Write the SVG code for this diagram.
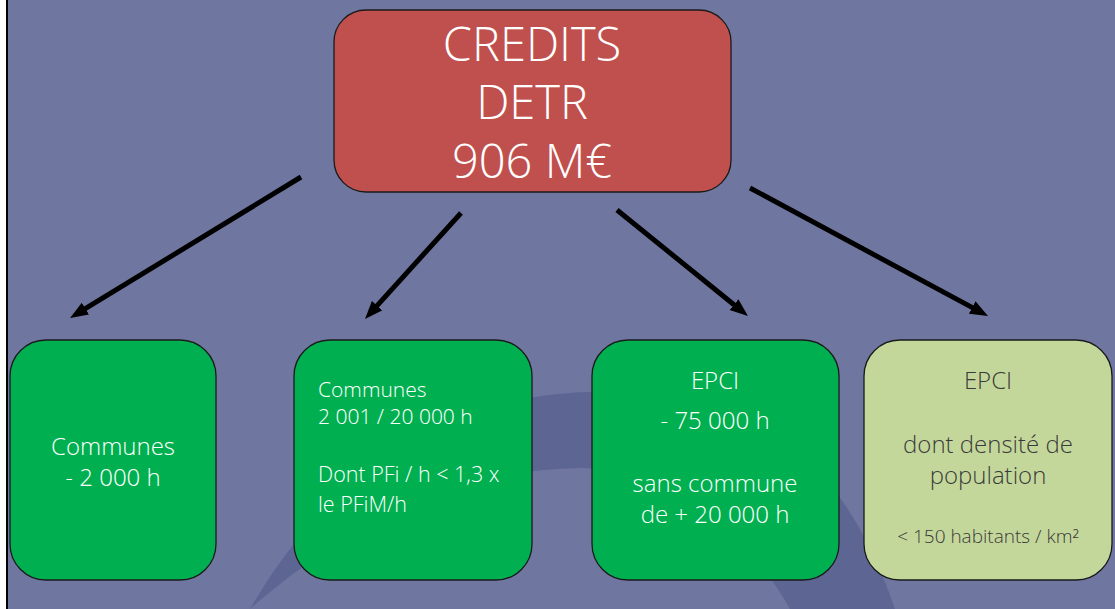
<svg xmlns="http://www.w3.org/2000/svg" width="1115" height="609" viewBox="0 0 1115 609">
  <style>
    .box { stroke: #1a1a1a; stroke-width: 1.3; }
    .red { fill: #c0504d; }
    .green { fill: #00b050; }
    .pale { fill: #c4d79b; }
    text { font-family: "Segoe UI Light", "Open Sans Light", "Open Sans", "Noto Sans", "Liberation Sans", sans-serif; font-weight: 300; }
    .light { fill: #ffffff; }
    .dark { fill: #3a3a3a; }
    .mid { text-anchor: middle; }
    .link { stroke: #000; stroke-width: 5; fill: none; marker-end: url(#head); }
  </style>
  <defs>
    <marker id="head" markerUnits="userSpaceOnUse" markerWidth="20" markerHeight="16" refX="4" refY="7" orient="auto">
      <path d="M0,0 L18,7 L0,14 z" fill="#000"/>
    </marker>
  </defs>

  <!-- backdrop with the faint swoosh behind the lower row -->
  <rect x="0" y="0" width="1115" height="609" fill="#6f77a0"/>
  <path d="M250,609 C330,470 450,395 590,392 C720,390 830,420 895,609 L790,609 C740,520 660,470 580,468 C450,470 340,530 250,609 Z" fill="#5d6593"/>
  <rect x="0" y="0" width="6" height="609" fill="#ffffff"/>
  <line x1="7" y1="0" x2="7" y2="609" stroke="#000" stroke-width="2"/>

  <!-- connectors -->
  <g id="connectors">
    <line class="link" x1="301" y1="177" x2="82" y2="310.7"/>
    <line class="link" x1="461" y1="213" x2="374.4" y2="308.6"/>
    <line class="link" x1="617" y1="210" x2="737.1" y2="307.2"/>
    <line class="link" x1="750" y1="188" x2="975.7" y2="309.4"/>
  </g>

  <!-- root -->
  <g id="credits">
    <rect class="box red" x="334" y="10" width="397" height="182" rx="32"/>
    <text class="light mid" x="532" y="61" font-size="47">CREDITS</text>
    <text class="light mid" x="532" y="119" font-size="47">DETR</text>
    <text class="light mid" x="532" y="178" font-size="47">906 M€</text>
  </g>

  <g id="communes-small">
    <rect class="box green" x="10" y="340" width="206" height="240" rx="36"/>
    <text class="light mid" x="113" y="455" font-size="24">Communes</text>
    <text class="light mid" x="113" y="486" font-size="24">- 2 000 h</text>
  </g>

  <g id="communes-medium">
    <rect class="box green" x="294" y="340" width="238" height="240" rx="36"/>
    <text class="light" x="318" y="397" font-size="21">Communes</text>
    <text class="light" x="318" y="424" font-size="21">2 001 / 20 000 h</text>
    <text class="light" x="318" y="482" font-size="21.5">Dont PFi / h &lt; 1,3 x</text>
    <text class="light" x="318" y="512" font-size="21.5">le PFiM/h</text>
  </g>

  <g id="epci">
    <rect class="box green" x="592" y="340" width="247" height="240" rx="36"/>
    <text class="light mid" x="715" y="389" font-size="24">EPCI</text>
    <text class="light mid" x="715" y="429" font-size="24">- 75 000 h</text>
    <text class="light mid" x="715" y="492" font-size="24">sans commune</text>
    <text class="light mid" x="715" y="523" font-size="24">de + 20 000 h</text>
  </g>

  <g id="epci-density">
    <rect class="box pale" x="864" y="340" width="248" height="240" rx="36"/>
    <text class="dark mid" x="988" y="389" font-size="24">EPCI</text>
    <text class="dark mid" x="988" y="453" font-size="24">dont densité de</text>
    <text class="dark mid" x="988" y="484" font-size="24">population</text>
    <text class="dark mid" x="988" y="543" font-size="19">&lt; 150 habitants / km²</text>
  </g>
</svg>
